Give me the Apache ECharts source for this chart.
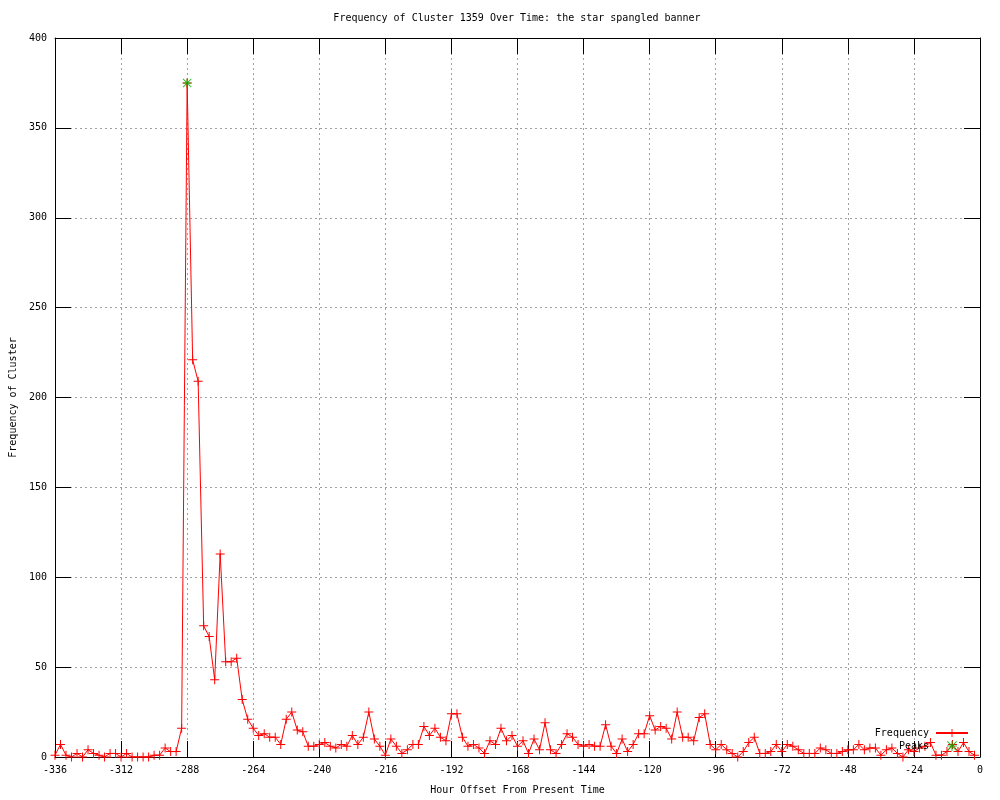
<!DOCTYPE html>
<html>
<head>
<meta charset="utf-8">
<script src="https://cdn.jsdelivr.net/npm/echarts@6/dist/echarts.min.js"></script>
<style>
  html, body { margin: 0; padding: 0; background: #fff; }
  #chart { width: 1000px; height: 800px; }
</style>
</head>
<body>
<div id="chart"></div>
<script>
// hourly offsets start at -336 and step by 2 hours
const startHour = -336;
const stepHours = 2;

const frequency = [
  1, 7, 1, 0, 2, 0, 4, 2, 1, 0, 2, 2, 0, 2, 0, 0, 0, 0, 1, 1,
  5, 3, 3, 16, 375, 221, 209, 73, 67, 43, 113, 53, 53, 55, 32, 21, 16, 12, 13, 11,
  11, 7, 21, 25, 15, 14, 6, 6, 7, 8, 6, 5, 7, 6, 12, 7, 11, 25, 10, 6,
  1, 10, 6, 2, 4, 7, 7, 17, 12, 16, 11, 9, 24, 24, 11, 6, 7, 5, 2, 9,
  7, 16, 9, 12, 6, 9, 2, 10, 4, 19, 4, 2, 7, 13, 11, 7, 6, 7, 6, 6,
  18, 6, 2, 10, 3, 7, 13, 13, 23, 15, 17, 16, 10, 25, 11, 11, 9, 22, 24, 7,
  4, 7, 4, 2, 0, 3, 8, 11, 2, 2, 3, 7, 3, 7, 6, 4, 2, 2, 2, 5,
  4, 2, 2, 3, 4, 4, 7, 4, 5, 5, 1, 4, 5, 2, 0, 4, 3, 5, 6, 8,
  1, 1, 3, 7, 3, 8, 3, 1
];

const peakHours = [-288];
const peakValues = [375];

const hours = frequency.map((_, i) => startHour + i * stepHours);

const plusSymbol = 'path://M4,0H5V4H9V5H5V9H4V5H0V4H4Z';
const starSymbol = 'path://M4,0H5V4H9V5H5V9H4V5H0V4H4Z M0,0.7L0.7,0L9,8.3L8.3,9Z M8.3,0L9,0.7L0.7,9L0,8.3Z';

const mono = 'DejaVu Sans Mono';
const dotted = { color: '#a0a0a0', width: 1, type: [2, 3] };
const blackLine = { show: true, onZero: false, lineStyle: { color: '#000', width: 1 } };
const innerTick = { show: true, inside: true, length: 16, lineStyle: { color: '#000' } };

const myChart = echarts.init(document.getElementById('chart'));

const baseX = {
  type: 'value',
  min: -336,
  max: 0,
  interval: 24,
  axisLine: blackLine,
  axisTick: innerTick
};
const baseY = {
  type: 'value',
  min: 0,
  max: 400,
  interval: 50,
  axisLine: blackLine,
  axisTick: innerTick
};

const option = {
  animation: false,
  backgroundColor: '#ffffff',
  textStyle: { fontFamily: mono },
  graphic: [{
    type: 'text',
    x: 517,
    y: 18,
    style: {
      text: 'Frequency of Cluster 1359 Over Time: the star spangled banner',
      font: '10px "DejaVu Sans Mono"',
      fill: '#000',
      textAlign: 'center',
      textVerticalAlign: 'middle'
    }
  }],
  grid: {
    left: 55,
    right: 20,
    top: 38,
    bottom: 40
  },
  legend: {
    orient: 'vertical',
    right: 31,
    bottom: 49,
    padding: 0,
    align: 'right',
    itemGap: 3,
    itemWidth: 32,
    itemHeight: 10,
    textStyle: { fontFamily: mono, fontSize: 10, color: '#000', padding: [0, 2, 0, 0] },
    data: ['Frequency', 'Peaks']
  },
  xAxis: [
    Object.assign({}, baseX, {
      position: 'bottom',
      name: 'Hour Offset From Present Time',
      nameLocation: 'middle',
      nameGap: 28,
      nameTextStyle: { fontFamily: mono, fontSize: 10, color: '#000' },
      axisLabel: { fontFamily: mono, fontSize: 10, color: '#000', margin: 8 },
      splitLine: { show: true, lineStyle: dotted }
    }),
    Object.assign({}, baseX, {
      position: 'top',
      axisLabel: { show: false },
      splitLine: { show: false }
    })
  ],
  yAxis: [
    Object.assign({}, baseY, {
      position: 'left',
      name: 'Frequency of Cluster',
      nameLocation: 'middle',
      nameGap: 37,
      nameTextStyle: { fontFamily: mono, fontSize: 10, color: '#000' },
      axisLabel: { fontFamily: mono, fontSize: 10, color: '#000', margin: 8 },
      splitLine: { show: true, lineStyle: dotted }
    }),
    Object.assign({}, baseY, {
      position: 'right',
      axisLabel: { show: false },
      splitLine: { show: false }
    })
  ],
  series: [
    {
      name: 'Frequency',
      type: 'line',
      data: hours.map((h, i) => [h, frequency[i]]),
      symbol: plusSymbol,
      symbolSize: 9,
      showSymbol: true,
      color: '#ff0000',
      itemStyle: { color: '#ff0000' },
      lineStyle: { color: '#ff0000', width: 1 },
      z: 3
    },
    {
      name: 'Peaks',
      type: 'scatter',
      data: peakHours.map((h, i) => [h, peakValues[i]]),
      symbol: starSymbol,
      symbolSize: 9,
      color: '#00b000',
      itemStyle: { color: '#00b000' },
      z: 4
    }
  ]
};

myChart.setOption(option);
</script>
</body>
</html>
